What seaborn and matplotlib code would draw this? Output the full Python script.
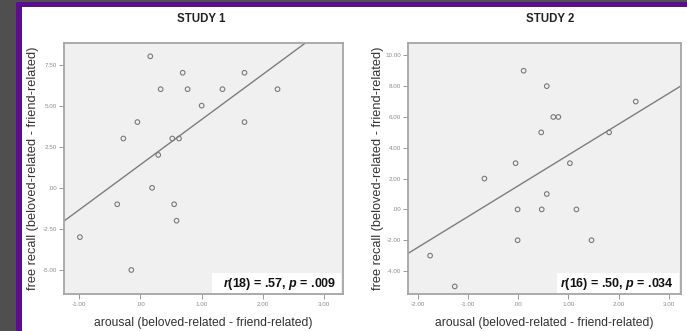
import numpy as np
import pandas as pd
import seaborn as sns
import matplotlib.pyplot as plt
from matplotlib.patches import Rectangle

# Study 1 (n = 20)
s1_arousal = [-0.99, -0.38, -0.28, -0.15, -0.05, 0.16, 0.19, 0.29, 0.33, 0.52,
              0.55, 0.59, 0.63, 0.69, 0.77, 1.00, 1.34, 1.70, 1.70, 2.24]
s1_recall = [-3, -1, 3, -5, 4, 8, 0, 2, 6, 3,
             -1, -2, 3, 7, 6, 5, 6, 7, 4, 6]

# Study 2 (n = 18)
s2_arousal = [-1.75, -1.26, -0.67, -0.05, -0.01, -0.01, 0.11, 0.46, 0.47,
              0.57, 0.57, 0.70, 0.80, 1.03, 1.16, 1.46, 1.81, 2.34]
s2_recall = [-3, -5, 2, 3, 0, -2, 9, 5, 0,
             8, 1, 6, 6, 3, 0, -2, 5, 7]

titles = ['STUDY 1', 'STUDY 2']
stats_text = [r'$\mathit{r}$(18) = .57, $\mathit{p}$ = .009',
              r'$\mathit{r}$(16) = .50, $\mathit{p}$ = .034']

s1_xticks = [-1, 0, 1, 2, 3]
s1_xticklabels = ['-1.00', '.00', '1.00', '2.00', '3.00']
s1_yticks = [-5, -2.5, 0, 2.5, 5, 7.5]
s1_yticklabels = ['-5.00', '-2.50', '.00', '2.50', '5.00', '7.50']

s2_xticks = [-2, -1, 0, 1, 2, 3]
s2_xticklabels = ['-2.00', '-1.00', '.00', '1.00', '2.00', '3.00']
s2_yticks = [-4, -2, 0, 2, 4, 6, 8, 10]
s2_yticklabels = ['-4.00', '-2.00', '.00', '2.00', '4.00', '6.00', '8.00', '10.00']

xlabel = 'arousal (beloved-related - friend-related)'
ylabel = 'free recall (beloved-related - friend-related)'

sns.set_style('white')
plt.rcParams['font.family'] = ['Liberation Sans', 'DejaVu Sans']
plt.rcParams['mathtext.fontset'] = 'custom'
plt.rcParams['mathtext.it'] = 'Liberation Sans:italic:bold'
plt.rcParams['mathtext.rm'] = 'Liberation Sans:bold'

fig = plt.figure(figsize=(6.87, 3.31), dpi=100)
fig.patch.set_facecolor('#4f4f4f')
# purple frame and white slide area
fig.add_artist(Rectangle((16 / 687, 0), 1, (331 - 2) / 331, transform=fig.transFigure,
                         facecolor='#5a0f8c', edgecolor='none', zorder=-2))
fig.add_artist(Rectangle((22 / 687, 0), 1, (331 - 7) / 331, transform=fig.transFigure,
                         facecolor='white', edgecolor='none', zorder=-1))

panels = [
    dict(x=s1_arousal, y=s1_recall, pos=[64 / 687, 37 / 331, 279 / 687, 251 / 331],
         xlim=(-1.25, 3.31), ylim=(-6.46, 8.81),
         xt=s1_xticks, xtl=s1_xticklabels, yt=s1_yticks, ytl=s1_yticklabels,
         box_x=0.53, ylab_x=33, title_x=201),
    dict(x=s2_arousal, y=s2_recall, pos=[408 / 687, 37 / 331, 273 / 687, 251 / 331],
         xlim=(-2.19, 3.24), ylim=(-5.49, 10.8),
         xt=s2_xticks, xtl=s2_xticklabels, yt=s2_yticks, ytl=s2_yticklabels,
         box_x=0.545, ylab_x=378, title_x=550),
]

for i, p in enumerate(panels):
    ax = fig.add_axes(p['pos'])
    ax.set_facecolor('#f0f0f0')
    ax.set_xlim(p['xlim'])
    ax.set_ylim(p['ylim'])
    df = pd.DataFrame({'arousal': p['x'], 'recall': p['y']})
    sns.regplot(data=df, x='arousal', y='recall', ax=ax, ci=None, truncate=False,
                marker='o',
                scatter_kws=dict(s=11, facecolors='none', edgecolors='#7a7a7a',
                                 linewidths=0.8, alpha=1),
                line_kws=dict(color='#7d7d7d', lw=1.0))
    ax.set_xlim(p['xlim'])
    ax.set_ylim(p['ylim'])

    for sp in ax.spines.values():
        sp.set_color('#a5a5a5')
        sp.set_linewidth(1.3)

    ax.set_xticks(p['xt'])
    ax.set_xticklabels(p['xtl'])
    ax.set_yticks(p['yt'])
    ax.set_yticklabels(p['ytl'])
    ax.tick_params(axis='both', which='both', direction='out', length=3.5, width=0.6,
                   color='#888888', labelsize=4.5, labelcolor='#8a8a8a', pad=1.5,
                   bottom=True, left=True)
    ax.tick_params(axis='x', pad=2.5)

    ax.set_xlabel(xlabel, fontsize=8.7, color='#333333', labelpad=7)
    ax.set_ylabel('')
    fig.text(p['ylab_x'] / 687, (331 - 168) / 331, ylabel, rotation=90, fontsize=9.2,
             color='#333333', ha='center', va='center')

    fig.text(p['title_x'] / 687, (331 - 19) / 331, titles[i], fontsize=8.3,
             fontweight='bold', color='#222222', ha='center', va='center')

    # stats box in lower right corner
    ax.add_patch(Rectangle((p['box_x'], 0.003), 1 - p['box_x'] - 0.006, 0.08,
                           transform=ax.transAxes, facecolor='white',
                           edgecolor='none', zorder=3))
    ax.text(0.975, 0.04, stats_text[i], transform=ax.transAxes, ha='right',
            va='center', fontsize=9, fontweight='bold', color='#111111', zorder=4)

fig.savefig('out.png', dpi=100, facecolor=fig.get_facecolor())
